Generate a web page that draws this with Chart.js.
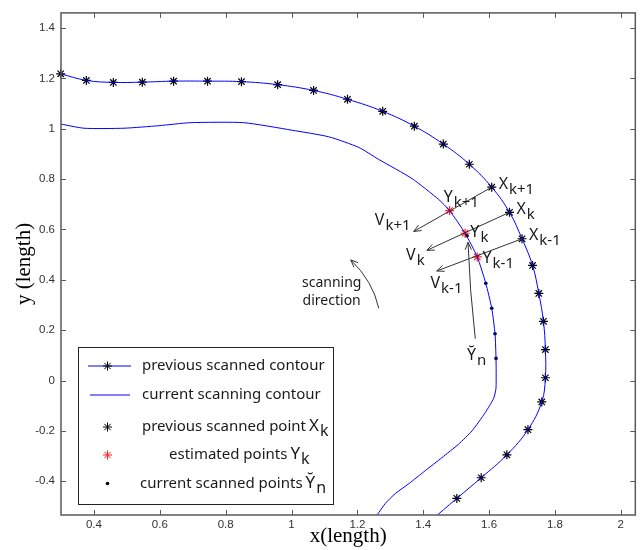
<!DOCTYPE html>
<html>
<head>
<meta charset="utf-8">
<script src="https://cdn.jsdelivr.net/npm/chart.js@4.4.1/dist/chart.umd.min.js"></script>
<style>
    html, body { margin: 0; padding: 0; background: #fff; }
    #wrap { width: 641px; height: 550px; }
</style>
</head>
<body>
<div id="wrap"><canvas id="contourChart" width="641" height="550"></canvas></div>
<script>
// previous scanned contour : points X (stars)
const prevPointX = [0.299, 0.377, 0.459, 0.547, 0.642, 0.745, 0.848, 0.958, 1.067, 1.170, 1.277, 1.373, 1.461, 1.540, 1.608, 1.662, 1.700, 1.732, 1.751, 1.765, 1.771, 1.771, 1.760, 1.718, 1.654, 1.576, 1.502];
const prevPointY = [1.218, 1.192, 1.184, 1.185, 1.189, 1.189, 1.187, 1.175, 1.152, 1.117, 1.069, 1.010, 0.939, 0.859, 0.768, 0.668, 0.563, 0.457, 0.346, 0.235, 0.123, 0.011, -0.085, -0.195, -0.295, -0.386, -0.468];
// where the previous contour leaves the frame
const prevTailX = [1.42];
const prevTailY = [-0.56];

// current scanning contour
const currX = [0.29, 0.370, 0.491, 0.597, 0.693, 0.855, 1.002, 1.113, 1.204, 1.265, 1.366, 1.447, 1.480, 1.527, 1.564, 1.590, 1.608, 1.618, 1.621, 1.621, 1.614, 1.588, 1.548, 1.507, 1.457, 1.406, 1.356, 1.315, 1.285, 1.260, 1.245];
const currY = [1.021, 1.002, 1.002, 1.012, 1.024, 1.024, 0.994, 0.968, 0.926, 0.878, 0.802, 0.719, 0.675, 0.585, 0.491, 0.386, 0.287, 0.186, 0.088, -0.030, -0.070, -0.128, -0.200, -0.253, -0.306, -0.358, -0.410, -0.449, -0.488, -0.534, -0.56];

// estimated points Y (red stars)
const estX = [1.480, 1.527, 1.564];
const estY = [0.675, 0.585, 0.491];

// current scanned points (dots)
const scanX = [1.533, 1.590, 1.608, 1.618, 1.621];
const scanY = [0.575, 0.386, 0.287, 0.186, 0.088];

// vectors V from X(k+1), X(k), X(k-1)
const vecFrom = [14, 15, 16];
const vecTipX = [1.371, 1.411, 1.441];
const vecTipY = [0.592, 0.517, 0.435];

// axis ticks
const xTicks = [0.4, 0.6, 0.8, 1, 1.2, 1.4, 1.6, 1.8, 2];
const yTicks = [-0.4, -0.2, 0, 0.2, 0.4, 0.6, 0.8, 1, 1.2, 1.4];

// labels (main letter, subscript, anchor in data units)
const symLabels = [
    { main: "X", sub: "k+1", x: 1.629, y: 0.762 },
    { main: "X", sub: "k", x: 1.683, y: 0.662 },
    { main: "X", sub: "k-1", x: 1.721, y: 0.558 },
    { main: "Y", sub: "k+1", x: 1.462, y: 0.710 },
    { main: "Y", sub: "k", x: 1.543, y: 0.572 },
    { main: "Y", sub: "k-1", x: 1.580, y: 0.468 },
    { main: "V", sub: "k+1", x: 1.253, y: 0.617 },
    { main: "V", sub: "k", x: 1.348, y: 0.478 },
    { main: "V", sub: "k-1", x: 1.422, y: 0.369 },
    { main: "Y\u0306", sub: "n", x: 1.533, y: 0.081 },
];

const SANS = '"Noto Sans", "Open Sans", sans-serif';
const TXT = "#1a1a1a";
const AXIS = "#5a5a5a";

const pts = (xs, ys) => xs.map((v, i) => ({ x: v, y: ys[i] }));

function drawSym(ctx, x, y, main, sub, size) {
    ctx.font = size + "px " + SANS;
    ctx.textAlign = "left";
    ctx.textBaseline = "alphabetic";
    ctx.fillText(main, x, y);
    const w = ctx.measureText(main.charAt(0)).width;
    ctx.font = (size - 1) + "px " + SANS;
    ctx.fillText(sub, x + w + 1, y + 5);
}

function arrowHead(ctx, x1, y1, x2, y2, len) {
    const a = Math.atan2(y2 - y1, x2 - x1);
    ctx.beginPath();
    ctx.moveTo(x2 - len * Math.cos(a - 0.4), y2 - len * Math.sin(a - 0.4));
    ctx.lineTo(x2, y2);
    ctx.lineTo(x2 - len * Math.cos(a + 0.4), y2 - len * Math.sin(a + 0.4));
    ctx.stroke();
}

const overlay = {
    id: "overlay",
    afterDatasetsDraw(chart) {
        const { ctx, scales: { x, y } } = chart;
        ctx.save();
        // V arrows
        ctx.strokeStyle = "#333";
        ctx.lineWidth = 1;
        vecFrom.forEach((k, i) => {
            const x1 = x.getPixelForValue(prevPointX[k]), y1 = y.getPixelForValue(prevPointY[k]);
            const x2 = x.getPixelForValue(vecTipX[i]), y2 = y.getPixelForValue(vecTipY[i]);
            ctx.beginPath();
            ctx.moveTo(x1, y1);
            ctx.lineTo(x2, y2);
            ctx.stroke();
            arrowHead(ctx, x1, y1, x2, y2, 8);
        });
        // arrow from Yn label up to Yk
        {
            const x1 = x.getPixelForValue(1.558), y1 = y.getPixelForValue(0.166);
            const cx = x.getPixelForValue(1.541), cy = y.getPixelForValue(0.36);
            const x2 = x.getPixelForValue(1.536), y2 = y.getPixelForValue(0.549);
            ctx.beginPath();
            ctx.moveTo(x1, y1);
            ctx.quadraticCurveTo(cx, cy, x2, y2);
            ctx.stroke();
            arrowHead(ctx, cx, cy, x2, y2, 8);
        }
        // scanning direction arrow
        {
            const x1 = x.getPixelForValue(1.265), y1 = y.getPixelForValue(0.287);
            const cx = x.getPixelForValue(1.247), cy = y.getPixelForValue(0.395);
            const x2 = x.getPixelForValue(1.180), y2 = y.getPixelForValue(0.479);
            ctx.beginPath();
            ctx.moveTo(x1, y1);
            ctx.quadraticCurveTo(cx, cy, x2, y2);
            ctx.stroke();
            arrowHead(ctx, cx, cy, x2, y2, 8);
        }
        ctx.fillStyle = TXT;
        ctx.font = "14px " + SANS;
        ctx.textAlign = "center";
        ctx.fillText("scanning", x.getPixelForValue(1.122), y.getPixelForValue(0.373));
        ctx.fillText("direction", x.getPixelForValue(1.122), y.getPixelForValue(0.299));
        symLabels.forEach((l) => {
            drawSym(ctx, x.getPixelForValue(l.x), y.getPixelForValue(l.y), l.main, l.sub, 16);
        });
        ctx.restore();
    },
    afterDraw(chart) {
        const { ctx, chartArea: a, scales: { x, y } } = chart;
        ctx.save();
        // frame and inner ticks
        ctx.strokeStyle = AXIS;
        ctx.lineWidth = 1.5;
        ctx.strokeRect(a.left, a.top, a.right - a.left, a.bottom - a.top);
        ctx.lineWidth = 1;
        ctx.beginPath();
        xTicks.forEach((v) => {
            const p = Math.round(x.getPixelForValue(v)) + 0.5;
            ctx.moveTo(p, a.bottom); ctx.lineTo(p, a.bottom - 5);
            ctx.moveTo(p, a.top); ctx.lineTo(p, a.top + 5);
        });
        yTicks.forEach((v) => {
            const p = Math.round(y.getPixelForValue(v)) + 0.5;
            ctx.moveTo(a.left, p); ctx.lineTo(a.left + 5, p);
            ctx.moveTo(a.right, p); ctx.lineTo(a.right - 5, p);
        });
        ctx.stroke();

        // legend
        const L = a.left + 17, T = a.bottom - 168, R = a.left + 272, B = a.bottom - 11;
        ctx.fillStyle = "#fff";
        ctx.fillRect(L, T, R - L, B - T);
        ctx.strokeStyle = "#222";
        ctx.lineWidth = 1;
        ctx.strokeRect(L + 0.5, T + 0.5, R - L, B - T);
        const mx = L + 29.5;
        const rows = [T + 19, T + 48, T + 80, T + 108, T + 136.5];
        ctx.strokeStyle = "#0000ff";
        ctx.beginPath();
        ctx.moveTo(L + 10, rows[0]); ctx.lineTo(L + 53, rows[0]);
        ctx.moveTo(L + 12, rows[1]); ctx.lineTo(L + 52, rows[1]);
        ctx.stroke();
        const star = { pointStyle: "star", radius: 4.5, borderWidth: 1.2, rotation: 0 };
        ctx.strokeStyle = "#000";
        Chart.helpers.drawPoint(ctx, star, mx, rows[0]);
        Chart.helpers.drawPoint(ctx, star, mx, rows[2]);
        ctx.strokeStyle = "#ff2020";
        Chart.helpers.drawPoint(ctx, star, mx, rows[3]);
        ctx.fillStyle = "#000";
        ctx.beginPath();
        ctx.arc(mx, rows[4], 1.8, 0, Math.PI * 2);
        ctx.fill();

        ctx.fillStyle = TXT;
        ctx.textAlign = "left";
        ctx.textBaseline = "alphabetic";
        ctx.font = "15px " + SANS;
        ctx.fillText("previous scanned contour", L + 64, rows[0] + 4);
        ctx.fillText("current scanning contour", L + 64, rows[1] + 4);
        const items = [
            ["previous scanned point", "X", "k", 2, 64],
            ["estimated points", "Y", "k", 3, 91],
            ["current scanned points", "Y\u0306", "n", 4, 62],
        ];
        items.forEach(([t, m, s, r, dx]) => {
            ctx.font = "15px " + SANS;
            ctx.fillText(t, L + dx, rows[r] + 4);
            const w = ctx.measureText(t).width;
            drawSym(ctx, L + dx + w + 3, rows[r] + 4, m, s, 17);
        });
        ctx.restore();
    },
};

document.addEventListener("DOMContentLoaded", function () {
    const canvas = document.getElementById("contourChart");
    const tickFont = { family: '"Liberation Sans", Arial, sans-serif', size: 11.5 };
    new Chart(canvas.getContext("2d"), {
        type: "scatter",
        data: {
            datasets: [
                {
                    label: "previous scanned contour",
                    data: pts(prevPointX.concat(prevTailX), prevPointY.concat(prevTailY)),
                    showLine: true,
                    borderColor: "#0000ff",
                    borderWidth: 1,
                    pointRadius: 0,
                    tension: 0.4,
                    clip: 0,
                },
                {
                    label: "current scanning contour",
                    data: pts(currX, currY),
                    showLine: true,
                    borderColor: "#0000ff",
                    borderWidth: 1,
                    pointRadius: 0,
                    tension: 0.2,
                    clip: 0,
                },
                {
                    label: "current scanned points",
                    data: pts(scanX, scanY),
                    pointStyle: "circle",
                    pointRadius: 1.8,
                    backgroundColor: "#000",
                    borderColor: "#000",
                    borderWidth: 0,
                    clip: false,
                },
                {
                    label: "previous scanned point",
                    data: pts(prevPointX, prevPointY),
                    pointStyle: "star",
                    pointRadius: 4.5,
                    borderColor: "#000",
                    borderWidth: 1.2,
                    clip: false,
                },
                {
                    label: "estimated points",
                    data: pts(estX, estY),
                    pointStyle: "star",
                    pointRadius: 4.5,
                    borderColor: "#ff2020",
                    borderWidth: 1.2,
                    clip: false,
                },
            ],
        },
        options: {
            responsive: false,
            animation: false,
            devicePixelRatio: 1,
            layout: { padding: { top: 7, right: 4, left: 0, bottom: 0 } },
            plugins: {
                legend: { display: false },
                tooltip: { enabled: false },
            },
            scales: {
                x: {
                    type: "linear",
                    min: 0.3,
                    max: 2.044,
                    afterBuildTicks: (s) => { s.ticks = xTicks.map((v) => ({ value: v })); },
                    afterFit: (s) => { s.height = 35; },
                    ticks: { callback: (v) => String(v), font: tickFont, color: "#333", padding: 3, maxRotation: 0, autoSkip: false },
                    grid: { display: false, drawTicks: false },
                    border: { display: false },
                    title: {
                        display: true,
                        text: "x(length)",
                        color: "#000",
                        font: { family: '"Liberation Serif", "Times New Roman", serif', size: 21 },
                        padding: { top: 0, bottom: 1 },
                    },
                },
                y: {
                    type: "linear",
                    min: -0.534,
                    max: 1.46,
                    afterBuildTicks: (s) => { s.ticks = yTicks.map((v) => ({ value: v })); },
                    afterFit: (s) => { s.width = 61; },
                    ticks: { callback: (v) => String(v), font: tickFont, color: "#333", padding: 6, autoSkip: false },
                    grid: { display: false, drawTicks: false },
                    border: { display: false },
                    title: {
                        display: true,
                        text: "y (length)",
                        color: "#000",
                        font: { family: '"Liberation Serif", "Times New Roman", serif', size: 21 },
                        padding: { top: 12, bottom: 0 },
                    },
                },
            },
        },
        plugins: [overlay],
    });
});
</script>
</body>
</html>
